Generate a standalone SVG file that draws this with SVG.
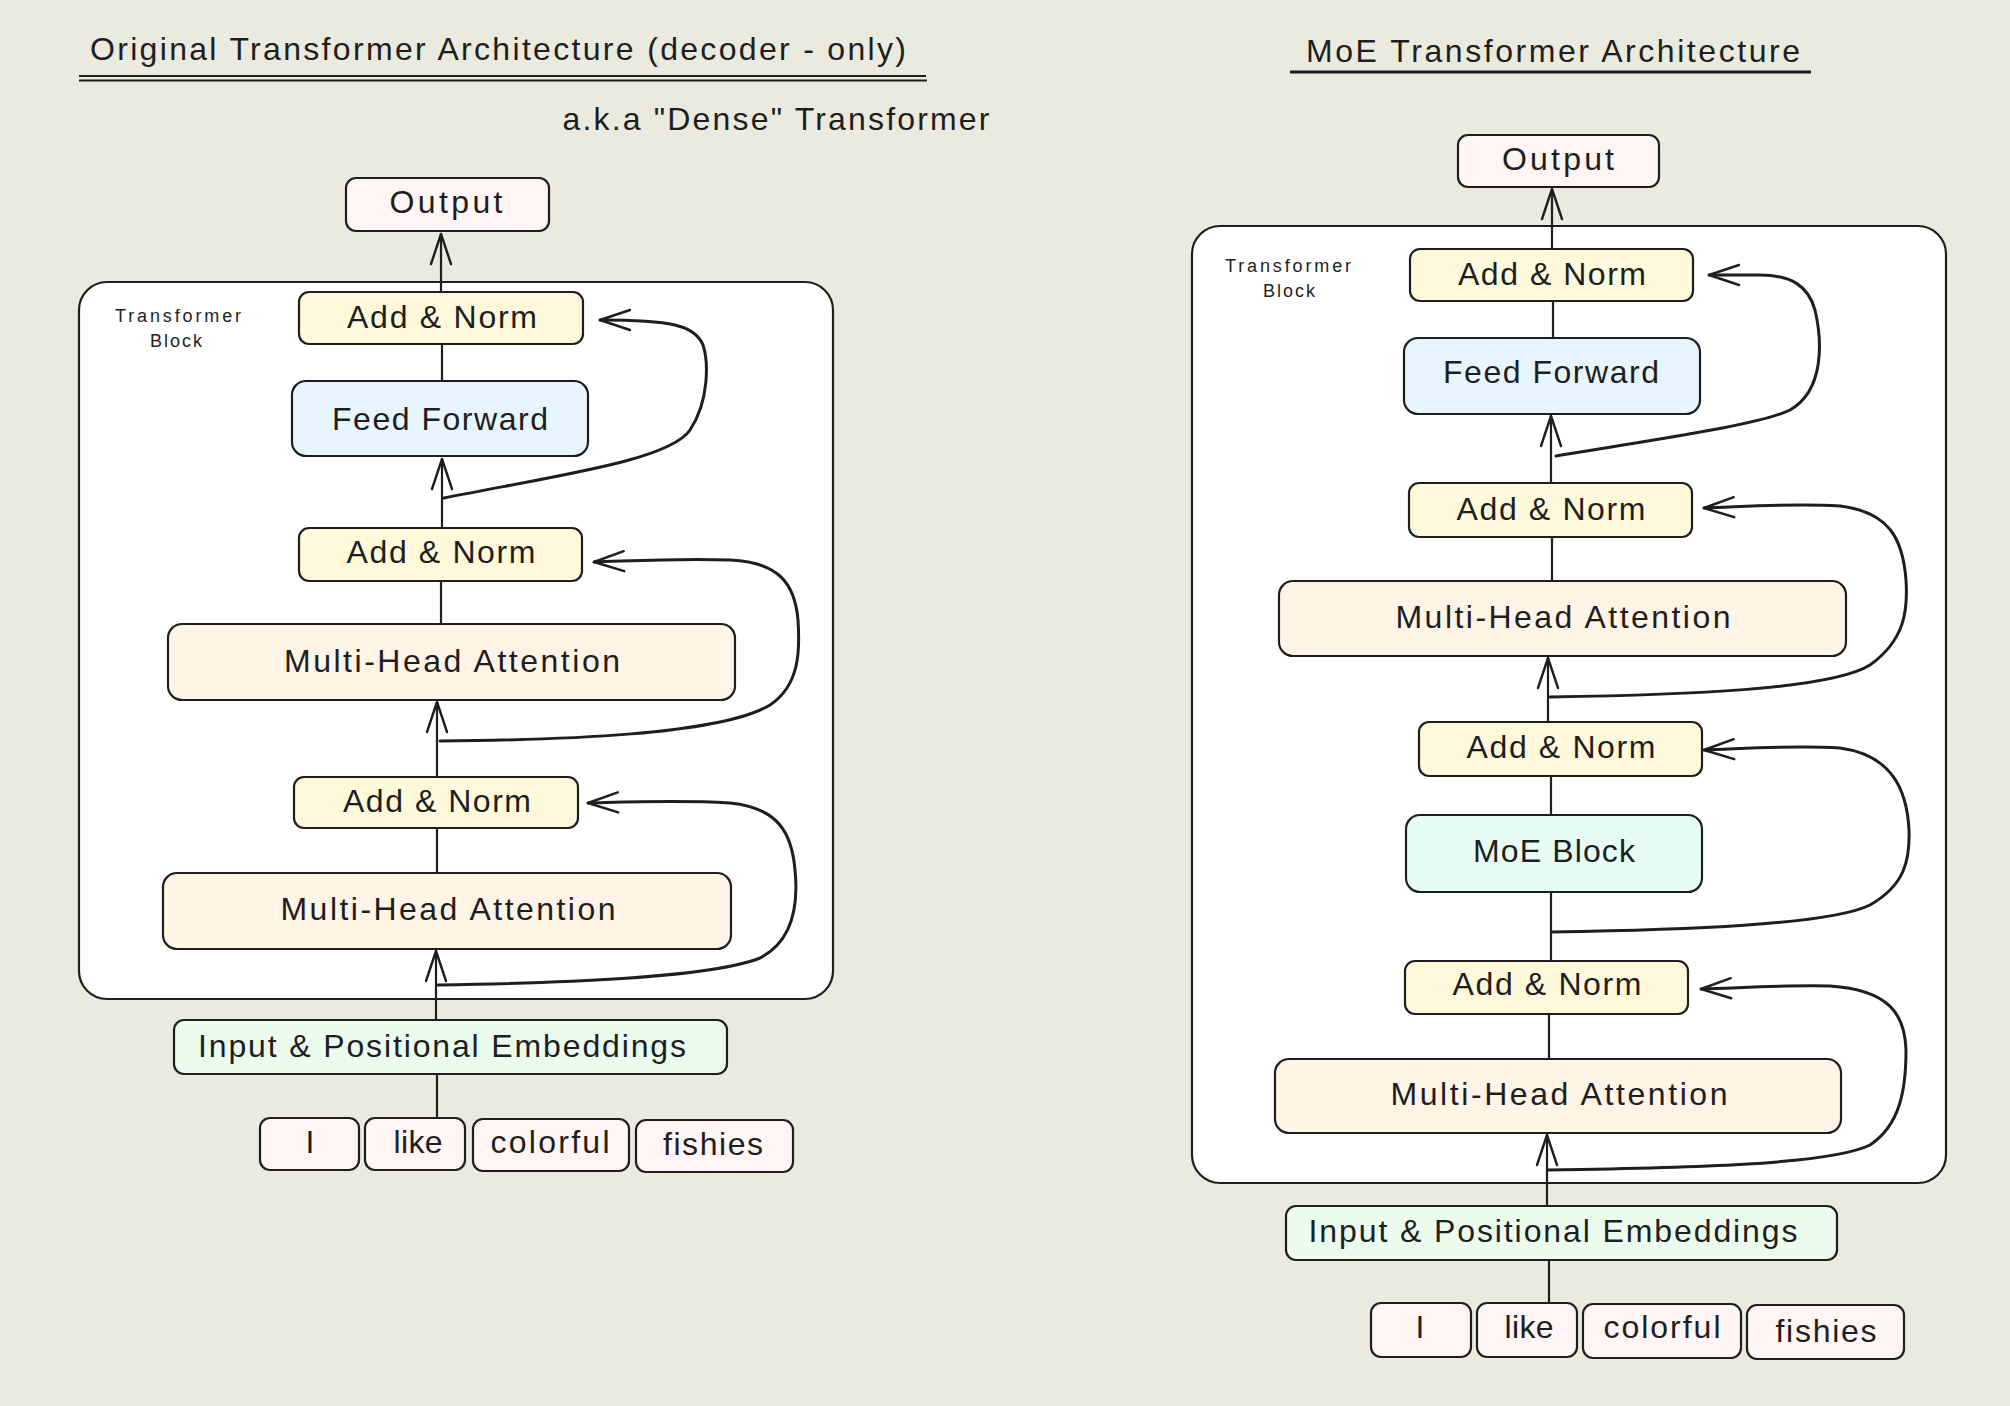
<svg xmlns="http://www.w3.org/2000/svg" width="2010" height="1406" viewBox="0 0 2010 1406">
<style>
  .t{font-family:"Liberation Sans","DejaVu Sans",sans-serif;fill:#1e1e1e;text-anchor:middle}
  .lbl{font-size:32px}
  .sm{font-size:18px}
  .box{stroke:#1e1e1e;stroke-width:2.2}
  .out{fill:#fff5f5}
  .an{fill:#fff9db}
  .ff{fill:#e7f5ff}
  .mha{fill:#fff4e6}
  .inp{fill:#ebfbee}
  .moe{fill:#e6fcf5}
  .cont{fill:#ffffff;stroke:#1e1e1e;stroke-width:2.2}
  .ln{fill:none;stroke:#1e1e1e;stroke-width:2.2;stroke-linecap:round}
  .skip{fill:none;stroke:#1e1e1e;stroke-width:3;stroke-linecap:round}
</style>
<defs>
  <marker id="ah" markerUnits="userSpaceOnUse" viewBox="-34 -14 40 28" markerWidth="40" markerHeight="28" refX="0" refY="0" orient="auto" overflow="visible">
    <path d="M-30,-10 L0,0 L-30,10" fill="none" stroke="#1e1e1e" stroke-width="2.4" stroke-linecap="round" stroke-linejoin="round"/>
  </marker>
</defs>
<rect x="0" y="0" width="2010" height="1406" fill="#ebeadf"/>

<g id="titles">
  <text class="t lbl" x="498" y="60" textLength="816">Original Transformer Architecture (decoder - only)</text>
  <line x1="79" y1="76" x2="926" y2="76" stroke="#1e1e1e" stroke-width="2"/>
  <line x1="79" y1="80.5" x2="927" y2="80.5" stroke="#1e1e1e" stroke-width="2"/>
  <text class="t lbl" x="776" y="130" textLength="427">a.k.a "Dense" Transformer</text>
  <text class="t lbl" x="1553" y="62" textLength="494">MoE Transformer Architecture</text>
  <line x1="1290" y1="72" x2="1811" y2="72" stroke="#1e1e1e" stroke-width="3"/>
</g>

<!-- Left diagram -->
<g id="left-container">
  <rect class="cont" x="79" y="282" width="754" height="717" rx="28"/>
  <text class="t sm" x="178" y="322" textLength="126">Transformer</text>
  <text class="t sm" x="176" y="347" textLength="52">Block</text>
</g>
<g id="left-output"><rect class="box out" x="346" y="178" width="203" height="53" rx="10"/><text class="t lbl" x="446" y="213" textLength="113">Output</text></g>
<g id="left-addnorm1"><rect class="box an" x="299" y="292" width="284" height="52" rx="10"/><text class="t lbl" x="442" y="328" textLength="190">Add &amp; Norm</text></g>
<g id="left-ff"><rect class="box ff" x="292" y="381" width="296" height="75" rx="14"/><text class="t lbl" x="440" y="430" textLength="216">Feed Forward</text></g>
<g id="left-addnorm2"><rect class="box an" x="299" y="528" width="283" height="53" rx="10"/><text class="t lbl" x="441" y="563" textLength="189">Add &amp; Norm</text></g>
<g id="left-mha1"><rect class="box mha" x="168" y="624" width="567" height="76" rx="14"/><text class="t lbl" x="452" y="672" textLength="336">Multi-Head Attention</text></g>
<g id="left-addnorm3"><rect class="box an" x="294" y="777" width="284" height="51" rx="10"/><text class="t lbl" x="437" y="812" textLength="188">Add &amp; Norm</text></g>
<g id="left-mha2"><rect class="box mha" x="163" y="873" width="568" height="76" rx="14"/><text class="t lbl" x="448" y="920" textLength="335">Multi-Head Attention</text></g>
<g id="left-input"><rect class="box inp" x="174" y="1020" width="553" height="54" rx="10"/><text class="t lbl" x="442" y="1057" textLength="488">Input &amp; Positional Embeddings</text></g>
<g id="left-tok-i"><rect class="box out" x="260" y="1118" width="99" height="52" rx="10"/><text class="t lbl" x="310" y="1153">I</text></g>
<g id="left-tok-like"><rect class="box out" x="365" y="1118" width="100" height="52" rx="10"/><text class="t lbl" x="418" y="1153" textLength="49">like</text></g>
<g id="left-tok-colorful"><rect class="box out" x="473" y="1119" width="156" height="52" rx="10"/><text class="t lbl" x="550" y="1153" textLength="119">colorful</text></g>
<g id="left-tok-fishies"><rect class="box out" x="636" y="1120" width="157" height="52" rx="10"/><text class="t lbl" x="713" y="1155" textLength="100">fishies</text></g>

<!-- Right diagram -->
<g id="right-container">
  <rect class="cont" x="1192" y="226" width="754" height="957" rx="28"/>
  <text class="t sm" x="1288" y="272" textLength="126">Transformer</text>
  <text class="t sm" x="1289" y="297" textLength="52">Block</text>
</g>
<g id="right-output"><rect class="box out" x="1458" y="135" width="201" height="52" rx="10"/><text class="t lbl" x="1558" y="170" textLength="112">Output</text></g>
<g id="right-addnorm1"><rect class="box an" x="1410" y="249" width="283" height="52" rx="10"/><text class="t lbl" x="1552" y="285" textLength="188">Add &amp; Norm</text></g>
<g id="right-ff"><rect class="box ff" x="1404" y="338" width="296" height="76" rx="14"/><text class="t lbl" x="1551" y="383" textLength="216">Feed Forward</text></g>
<g id="right-addnorm2"><rect class="box an" x="1409" y="483" width="283" height="54" rx="10"/><text class="t lbl" x="1551" y="520" textLength="189">Add &amp; Norm</text></g>
<g id="right-mha1"><rect class="box mha" x="1279" y="581" width="567" height="75" rx="14"/><text class="t lbl" x="1563" y="628" textLength="335">Multi-Head Attention</text></g>
<g id="right-addnorm3"><rect class="box an" x="1419" y="722" width="283" height="54" rx="10"/><text class="t lbl" x="1561" y="758" textLength="189">Add &amp; Norm</text></g>
<g id="right-moe"><rect class="box moe" x="1406" y="815" width="296" height="77" rx="14"/><text class="t lbl" x="1554" y="862" textLength="162">MoE Block</text></g>
<g id="right-addnorm4"><rect class="box an" x="1405" y="961" width="283" height="53" rx="10"/><text class="t lbl" x="1547" y="995" textLength="189">Add &amp; Norm</text></g>
<g id="right-mha2"><rect class="box mha" x="1275" y="1059" width="566" height="74" rx="14"/><text class="t lbl" x="1559" y="1105" textLength="337">Multi-Head Attention</text></g>
<g id="right-input"><rect class="box inp" x="1286" y="1206" width="551" height="54" rx="10"/><text class="t lbl" x="1553" y="1242" textLength="489">Input &amp; Positional Embeddings</text></g>
<g id="right-tok-i"><rect class="box out" x="1371" y="1303" width="100" height="54" rx="10"/><text class="t lbl" x="1420" y="1338">I</text></g>
<g id="right-tok-like"><rect class="box out" x="1477" y="1303" width="100" height="54" rx="10"/><text class="t lbl" x="1529" y="1338" textLength="49">like</text></g>
<g id="right-tok-colorful"><rect class="box out" x="1583" y="1304" width="158" height="54" rx="10"/><text class="t lbl" x="1662" y="1338" textLength="117">colorful</text></g>
<g id="right-tok-fishies"><rect class="box out" x="1747" y="1305" width="157" height="54" rx="10"/><text class="t lbl" x="1826" y="1342" textLength="101">fishies</text></g>

<g id="connectors">
  <!-- left -->
  <path class="ln" d="M441,292 L441,234" marker-end="url(#ah)"/>
  <path class="ln" d="M442,344 L442,381"/>
  <path class="ln" d="M442,528 L442,459" marker-end="url(#ah)"/>
  <path class="skip" d="M444,498 C560,475 670,460 690,430 C710,400 708,360 703,345 C695,325 670,320 600,320" marker-end="url(#ah)"/>
  <path class="ln" d="M441,581 L441,624"/>
  <path class="ln" d="M437,777 L437,702" marker-end="url(#ah)"/>
  <path class="skip" d="M440,741 C560,740 720,735 770,705 C800,685 800,650 798,620 C795,585 780,562 730,560 C680,558 630,561 594,562" marker-end="url(#ah)"/>
  <path class="ln" d="M437,828 L437,873"/>
  <path class="ln" d="M436,1020 L436,951" marker-end="url(#ah)"/>
  <path class="skip" d="M438,985 C560,983 710,978 760,958 C795,940 798,900 795,870 C792,835 780,808 730,803 C680,800 630,802 588,803" marker-end="url(#ah)"/>
  <path class="ln" d="M437,1118 L437,1074"/>
  <!-- right -->
  <path class="ln" d="M1552,249 L1552,189" marker-end="url(#ah)"/>
  <path class="ln" d="M1553,301 L1553,338"/>
  <path class="ln" d="M1551,483 L1551,416" marker-end="url(#ah)"/>
  <path class="skip" d="M1556,456 C1650,440 1760,425 1790,410 C1825,390 1822,340 1815,310 C1808,285 1790,275 1760,275 C1740,275 1725,275 1709,275" marker-end="url(#ah)"/>
  <path class="ln" d="M1552,537 L1552,581"/>
  <path class="ln" d="M1548,722 L1548,658" marker-end="url(#ah)"/>
  <path class="skip" d="M1550,697 C1680,695 1830,690 1870,665 C1905,640 1908,610 1906,580 C1903,540 1890,512 1840,506 C1790,503 1740,507 1704,508" marker-end="url(#ah)"/>
  <path class="ln" d="M1551,776 L1551,815"/>
  <path class="ln" d="M1551,892 L1551,961"/>
  <path class="skip" d="M1552,932 C1680,930 1830,925 1870,905 C1905,885 1910,860 1909,830 C1907,790 1892,755 1840,748 C1790,745 1740,749 1704,750" marker-end="url(#ah)"/>
  <path class="ln" d="M1549,1014 L1549,1059"/>
  <path class="ln" d="M1547,1206 L1547,1135" marker-end="url(#ah)"/>
  <path class="skip" d="M1548,1170 C1680,1168 1830,1165 1870,1145 C1900,1125 1906,1090 1906,1050 C1905,1015 1890,990 1830,986 C1780,985 1740,988 1701,989" marker-end="url(#ah)"/>
  <path class="ln" d="M1549,1303 L1549,1261"/>
</g>
</svg>
